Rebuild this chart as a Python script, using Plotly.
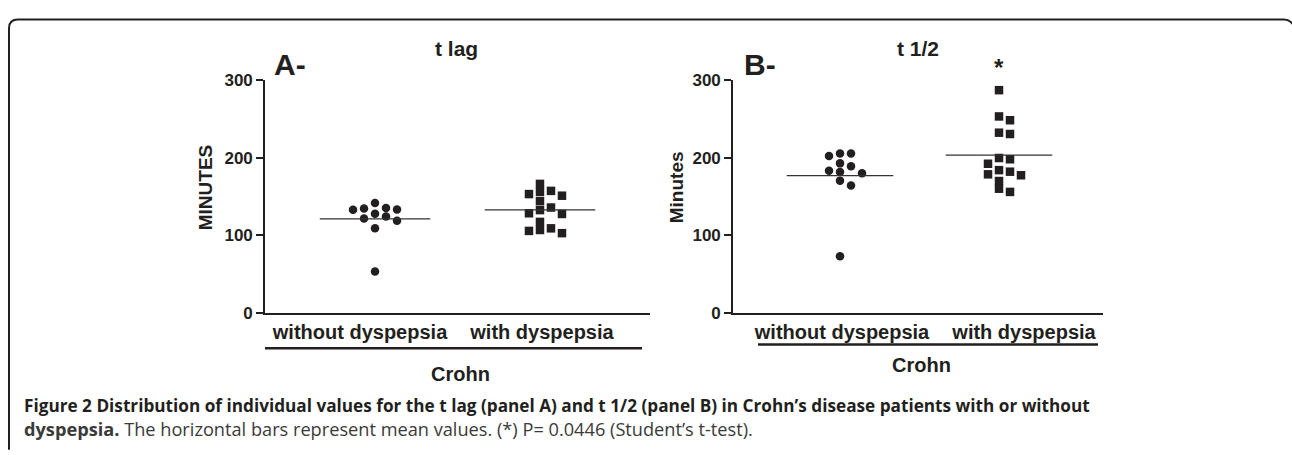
import numpy as np
import plotly.graph_objects as go

# ---------------- data ----------------
categories = ["without dyspepsia", "with dyspepsia"]
tlag_without = [134.6, 133.3, 141.5, 127.9, 132.8, 135.3, 118.9, 124.2, 121.7, 109.0, 53.5]
tlag_with = [166.2, 157.2, 153.1, 151.0, 155.9, 144.0, 127.5, 132.5, 135.8, 128.4,
             117.3, 106.9, 102.8, 105.7, 109.0]
thalf_without = [192.6, 205.3, 202.0, 205.3, 188.9, 183.1, 179.8, 181.5, 170.4, 164.2, 73.2]
thalf_with = [286.8, 253.0, 248.1, 230.4, 232.1, 199.5, 197.9, 192.1, 181.9, 177.3,
              183.9, 178.5, 169.9, 160.0, 155.9]
y_ticks = [0, 100, 200, 300]
panel_titles = ["t lag", "t 1/2"]
panel_letters = ["A-", "B-"]
y_titles = ["MINUTES", "Minutes"]
group_label = "Crohn"
caption_line1 = ("<b>Figure 2 Distribution of individual values for the t lag (panel A) and t 1/2 "
                 "(panel B) in Crohn’s disease patients with or without</b>")
caption_line2 = ("<b>dyspepsia.</b> The horizontal bars represent mean values. (*) P= 0.0446 "
                 "(Student’s t-test).")

# ---------------- layout helpers ----------------
W, H = 1292, 455
INK = "#231f20"
FONT = "Liberation Sans, Arial, Helvetica, sans-serif"


def fx(px):
    return px / W


def fy(py):
    return 1 - py / H


Y_BOTTOM, Y_TOP = 317.3, 74.0
PX_PER_UNIT_Y = (Y_BOTTOM - Y_TOP) / 300.0

# label offsets (px) of the category texts relative to the point columns
panels = [
    dict(x0=265, x1=650, rng=[0.333, 2.667], groups=[tlag_without, tlag_with],
         label_shift=[-15, 2]),
    dict(x0=733, x1=1103, rng=[0.327, 2.654], groups=[thalf_without, thalf_with],
         label_shift=[2, 25]),
]


def swarm(values, min_gap, order=(0, 1, -1, 2, -2, 3, -3, 4, -4)):
    vals = np.asarray(values, dtype=float)
    idx = np.argsort(-vals, kind="stable")
    slots = np.zeros(len(vals))
    placed = {}
    for i in idx:
        for s in order:
            if all(abs(vals[i] - v) >= min_gap for v in placed.get(s, [])):
                placed.setdefault(s, []).append(vals[i])
                slots[i] = s
                break
    return slots


fig = go.Figure()
symbols = ["circle", "square"]
min_gap = 8.0 / PX_PER_UNIT_Y

axis_common_y = dict(range=[0, 300], tickvals=y_ticks, ticks="outside", ticklen=7, tickwidth=1.5,
                     tickcolor=INK, showline=True, linewidth=1.6, linecolor=INK, showgrid=False,
                     zeroline=False, tickfont=dict(family=FONT, size=17, color=INK, weight="bold"),
                     domain=[fy(Y_BOTTOM), fy(Y_TOP)])
axis_common_x = dict(ticktext=categories, ticks="", showline=True, linewidth=1.6,
                     linecolor=INK, showgrid=False, zeroline=False, tickangle=0,
                     tickfont=dict(family=FONT, size=20, color=INK, weight="bold"))

layout_axes = {}
for p, pan in enumerate(panels):
    xa = "x" if p == 0 else "x2"
    ya = "y" if p == 0 else "y2"
    unit_px = (pan["x1"] - pan["x0"]) / (pan["rng"][1] - pan["rng"][0])
    slot_w = 11.0 / unit_px
    for g, vals in enumerate(pan["groups"]):
        center = g + 1
        slots = swarm(vals, min_gap)
        fig.add_trace(go.Scatter(
            x=center + slots * slot_w, y=vals, mode="markers", xaxis=xa, yaxis=ya,
            marker=dict(symbol=symbols[g], size=8.5, color=INK, line=dict(width=0)),
            cliponaxis=False, showlegend=False, hoverinfo="y"))
        m = float(np.mean(vals))
        fig.add_trace(go.Scatter(
            x=[center - 0.335, center + 0.335], y=[m, m], mode="lines", xaxis=xa, yaxis=ya,
            line=dict(color="#333333", width=1.3), showlegend=False, hoverinfo="skip"))
    tickvals = [g + 1 + pan["label_shift"][g] / unit_px for g in range(2)]
    sfx = "" if p == 0 else "2"
    layout_axes["xaxis" + sfx] = dict(domain=[fx(pan["x0"]), fx(pan["x1"])], range=pan["rng"],
                                      anchor="y" + sfx, tickvals=tickvals, **axis_common_x)
    layout_axes["yaxis" + sfx] = dict(anchor="x" + sfx, **axis_common_y)

fig.update_layout(width=W, height=H, margin=dict(l=0, r=0, t=0, b=0),
                  paper_bgcolor="white", plot_bgcolor="rgba(0,0,0,0)", **layout_axes)

ann = []
bold = dict(family=FONT, color=INK, weight="bold")


def note(text, x, y, size, xref="paper", xanchor="center", **kw):
    return dict(text=text, x=x, y=y, xref=xref, yref="paper", showarrow=False,
                xanchor=xanchor, yanchor="middle", font=dict(size=size, **bold), **kw)


for t, cx in zip(panel_titles, [457, 918]):
    ann.append(note(t, fx(cx), fy(41), 21))
for t, lx in zip(panel_letters, [272, 742]):
    ann.append(note(t, fx(lx), fy(58), 30, xanchor="left"))
for t, cx in zip(y_titles, [205, 676]):
    ann.append(note(t, fx(cx), fy(186), 19, textangle=-90))
for cx, cy in [(460, 381), (921, 371)]:
    ann.append(note(group_label, fx(cx), fy(cy), 20))
ann.append(note("*", 2, fy(61), 24, xref="x2"))

cap_font = dict(family="Open Sans, Lato, sans-serif", size=17.2, color="#3a3a3a")
ann.append(dict(text=caption_line1, x=fx(22), y=fy(414), xref="paper", yref="paper",
                showarrow=False, xanchor="left", yanchor="middle", font=dict(cap_font, color=INK)))
ann.append(dict(text=caption_line2, x=fx(22), y=fy(438), xref="paper", yref="paper",
                showarrow=False, xanchor="left", yanchor="middle", font=dict(cap_font, size=18.2)))
fig.update_layout(annotations=ann)

shapes = []
for x0, x1, yy in [(265, 642, 354), (758, 1098, 350)]:
    shapes.append(dict(type="line", xref="paper", yref="paper", x0=fx(x0), x1=fx(x1),
                       y0=fy(yy), y1=fy(yy), line=dict(color=INK, width=2.5)))
r = 9
frame = (f"M {fx(9)},{fy(H + 5)} L {fx(9)},{fy(11 + r)} Q {fx(9)},{fy(11)} {fx(9 + r)},{fy(11)} "
         f"L {fx(1284)},{fy(11)} Q {fx(1289)},{fy(11)} {fx(1293)},{fy(16)}")
shapes.append(dict(type="path", xref="paper", yref="paper", path=frame,
                   line=dict(color=INK, width=2)))
fig.update_layout(shapes=shapes)

fig.write_html("out.html", config={"displayModeBar": False},
               post_script="document.body.style.margin='0';")
